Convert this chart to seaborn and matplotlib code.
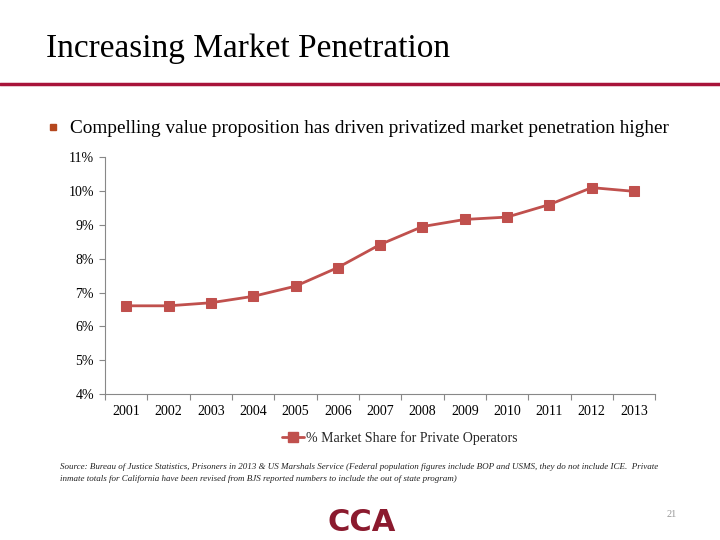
import matplotlib
matplotlib.use("Agg")
import matplotlib.pyplot as plt
import seaborn as sns
import pandas as pd
from matplotlib.ticker import FuncFormatter, FixedLocator
from matplotlib.lines import Line2D

years = ["2001", "2002", "2003", "2004", "2005", "2006", "2007",
         "2008", "2009", "2010", "2011", "2012", "2013"]
share = [6.61, 6.61, 6.70, 6.89, 7.19, 7.74, 8.42,
         8.95, 9.16, 9.23, 9.60, 10.10, 9.99]
series_name = "% Market Share for Private Operators"

df = pd.DataFrame({"Year": years, "Share": share})

sns.set_theme(style="white")
plt.rcParams['font.family'] = ['Liberation Serif', 'DejaVu Serif']

fig = plt.figure(figsize=(7.2, 5.4), dpi=100)
ax = fig.add_axes([0.146, 0.270, 0.764, 0.439])

red = "#C0504D"
sns.lineplot(data=df, x="Year", y="Share", ax=ax, color=red, linewidth=2,
             marker="s", markersize=6.5, markeredgecolor=red, sort=False)

ax.set_ylim(4, 11)
ax.set_xlim(-0.5, len(years) - 0.5)
ax.set_yticks(range(4, 12))
ax.yaxis.set_major_formatter(FuncFormatter(lambda v, p: f"{int(v)}%"))
ax.xaxis.set_minor_locator(FixedLocator([i - 0.5 for i in range(len(years) + 1)]))
ax.tick_params(axis="x", which="major", length=0, labelsize=10, pad=8, colors="black")
ax.tick_params(axis="x", which="minor", length=4, color="#888888", width=0.8, bottom=True)
ax.tick_params(axis="y", which="major", length=4, color="#888888", width=0.8, left=True,
               labelsize=10, pad=4, colors="black")
for lbl in ax.get_xticklabels() + ax.get_yticklabels():
    lbl.set_color("black")
ax.set_xlabel("")
ax.set_ylabel("")
for s in ["top", "right"]:
    ax.spines[s].set_visible(False)
for s in ["left", "bottom"]:
    ax.spines[s].set_color("#888888")
    ax.spines[s].set_linewidth(0.8)
ax.grid(False)

handle = Line2D([0], [0], color=red, linewidth=2, marker="s", markersize=6.5)
fig.legend([handle], [series_name], loc="center", bbox_to_anchor=(0.555, 0.189),
           frameon=False, fontsize=10, handlelength=1.6, handletextpad=0.1)

# Slide decorations
fig.text(0.064, 0.910, "Increasing Market Penetration", fontsize=24, va="center",
         ha="left", color="black")
fig.add_artist(Line2D([0, 1], [0.844, 0.844], color="#A8143A", linewidth=2.5,
                      transform=fig.transFigure))
fig.add_artist(Line2D([0.0735], [0.764], marker="s", markersize=4.5, color="#B5471E",
                      linestyle="none", transform=fig.transFigure))
fig.text(0.097, 0.762, "Compelling value proposition has driven privatized market penetration higher",
         fontsize=13.9, va="center", ha="left", color="black")

fig.text(0.083, 0.124,
         "Source: Bureau of Justice Statistics, Prisoners in 2013 & US Marshals Service (Federal population figures include BOP and USMS, they do not include ICE.  Private\n"
         "inmate totals for California have been revised from BJS reported numbers to include the out of state program)",
         fontsize=6.5, style="italic", va="center", ha="left", color="#222222", linespacing=1.6)

fig.text(0.933, 0.047, "21", fontsize=7.5, color="#999999", ha="center", va="center")
fig.text(0.502, 0.033, "CCA", fontsize=22, fontweight="heavy", color="#8B1A2E",
         ha="center", va="center", family=["DejaVu Sans"])

fig.savefig("out.png", dpi=100)
